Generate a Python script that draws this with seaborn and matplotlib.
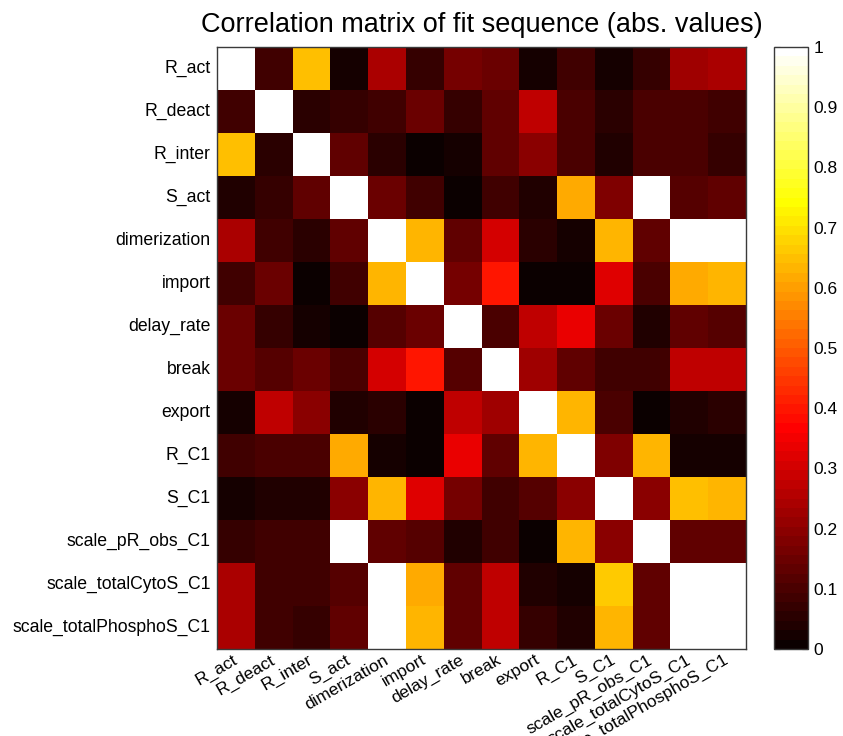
import numpy as np
import pandas as pd
import matplotlib
matplotlib.use("Agg")
import matplotlib.pyplot as plt
import seaborn as sns

# Parameter names of the fit
params = ["R_act", "R_deact", "R_inter", "S_act", "dimerization", "import",
          "delay_rate", "break", "export", "R_C1", "S_C1", "scale_pR_obs_C1",
          "scale_totalCytoS_C1", "scale_totalPhosphoS_C1"]

# Absolute correlation values, one list per parameter (row)
r_act        = [1.00, 0.085, 0.65, 0.03, 0.235, 0.065, 0.165, 0.155, 0.025, 0.085, 0.03, 0.07, 0.22, 0.235]
r_deact      = [0.08, 1.00, 0.06, 0.07, 0.085, 0.155, 0.07, 0.13, 0.27, 0.105, 0.05, 0.095, 0.095, 0.09]
r_inter      = [0.65, 0.06, 1.00, 0.14, 0.06, 0.015, 0.03, 0.14, 0.20, 0.105, 0.045, 0.095, 0.095, 0.07]
s_act        = [0.045, 0.07, 0.13, 1.00, 0.145, 0.085, 0.01, 0.09, 0.04, 0.61, 0.18, 1.00, 0.12, 0.13]
dimerization = [0.235, 0.08, 0.06, 0.14, 1.00, 0.625, 0.125, 0.30, 0.06, 0.03, 0.625, 0.14, 1.00, 1.00]
import_      = [0.08, 0.155, 0.01, 0.08, 0.635, 1.00, 0.165, 0.40, 0.01, 0.01, 0.32, 0.105, 0.61, 0.625]
delay_rate   = [0.155, 0.07, 0.03, 0.01, 0.12, 0.155, 1.00, 0.10, 0.28, 0.34, 0.155, 0.04, 0.14, 0.12]
break_       = [0.155, 0.12, 0.155, 0.105, 0.30, 0.40, 0.11, 1.00, 0.22, 0.13, 0.09, 0.09, 0.27, 0.275]
export       = [0.025, 0.27, 0.20, 0.035, 0.06, 0.01, 0.28, 0.22, 1.00, 0.625, 0.105, 0.01, 0.045, 0.06]
r_c1         = [0.08, 0.095, 0.095, 0.61, 0.02, 0.01, 0.34, 0.13, 0.625, 1.00, 0.175, 0.64, 0.03, 0.025]
s_c1         = [0.02, 0.035, 0.035, 0.20, 0.625, 0.32, 0.165, 0.08, 0.12, 0.19, 1.00, 0.19, 0.65, 0.64]
scale_pr     = [0.07, 0.08, 0.08, 1.00, 0.14, 0.11, 0.045, 0.085, 0.015, 0.635, 0.19, 1.00, 0.125, 0.14]
scale_cyto   = [0.235, 0.085, 0.085, 0.11, 1.00, 0.61, 0.14, 0.27, 0.04, 0.025, 0.66, 0.125, 1.00, 1.00]
scale_phos   = [0.235, 0.085, 0.07, 0.13, 1.00, 0.625, 0.13, 0.275, 0.065, 0.035, 0.64, 0.135, 1.00, 1.00]

rows = [r_act, r_deact, r_inter, s_act, dimerization, import_, delay_rate,
        break_, export, r_c1, s_c1, scale_pr, scale_cyto, scale_phos]
corr = pd.DataFrame(rows, index=params, columns=params)

cbar_ticks = [0, 0.1, 0.2, 0.3, 0.4, 0.5, 0.6, 0.7, 0.8, 0.9, 1]
cbar_labels = ["0", "0.1", "0.2", "0.3", "0.4", "0.5", "0.6", "0.7",
               "0.8", "0.9", "1"]

sns.set_style("white")
plt.rcParams["font.family"] = ["Liberation Sans", "DejaVu Sans"]
plt.rcParams["text.color"] = "black"
plt.rcParams["xtick.color"] = "black"
plt.rcParams["ytick.color"] = "black"

fig = plt.figure(figsize=(8.43, 7.36), dpi=100)
W, H = 843, 736
ax = fig.add_axes([217 / W, 1 - 649 / H, (746 - 217) / W, (649 - 47) / H])
cax = fig.add_axes([774 / W, 1 - 649 / H, (808 - 774) / W, (649 - 47) / H])

cmap = plt.get_cmap("hot", 64)
sns.heatmap(corr, ax=ax, cbar_ax=cax, cmap=cmap, vmin=0, vmax=1,
            square=False, linewidths=0,
            cbar_kws={"ticks": cbar_ticks})

ax.set_title("Correlation matrix of fit sequence (abs. values)",
             fontsize=19.5, pad=11, color="black")

# Axis box with inward ticks on every side
for side in ["top", "right", "left", "bottom"]:
    ax.spines[side].set_visible(True)
    ax.spines[side].set_color("#3a3a3a")
    ax.spines[side].set_linewidth(1.0)
ax.tick_params(axis="both", direction="in", length=4, width=0.8,
               color="#222222", top=True, right=True)
ax.set_yticklabels(params, rotation=0, fontsize=12.7)
ax.set_xticklabels(params, rotation=30, ha="right", va="center",
                   rotation_mode="anchor", fontsize=12.5)
ax.tick_params(axis="x", pad=7)
ax.tick_params(axis="y", pad=4.5)
ax.set_xlabel("")
ax.set_ylabel("")

# Colorbar frame and ticks
cb = ax.collections[0].colorbar
cb.outline.set_visible(True)
cb.outline.set_linewidth(1.0)
cb.outline.set_edgecolor("#3a3a3a")
cb.set_ticks(cbar_ticks)
cb.set_ticklabels(cbar_labels)
cax.tick_params(direction="in", length=4, width=0.8, left=True, right=True,
                labelsize=12.5, color="#222222", pad=4)

fig.savefig("out.png", dpi=100)
